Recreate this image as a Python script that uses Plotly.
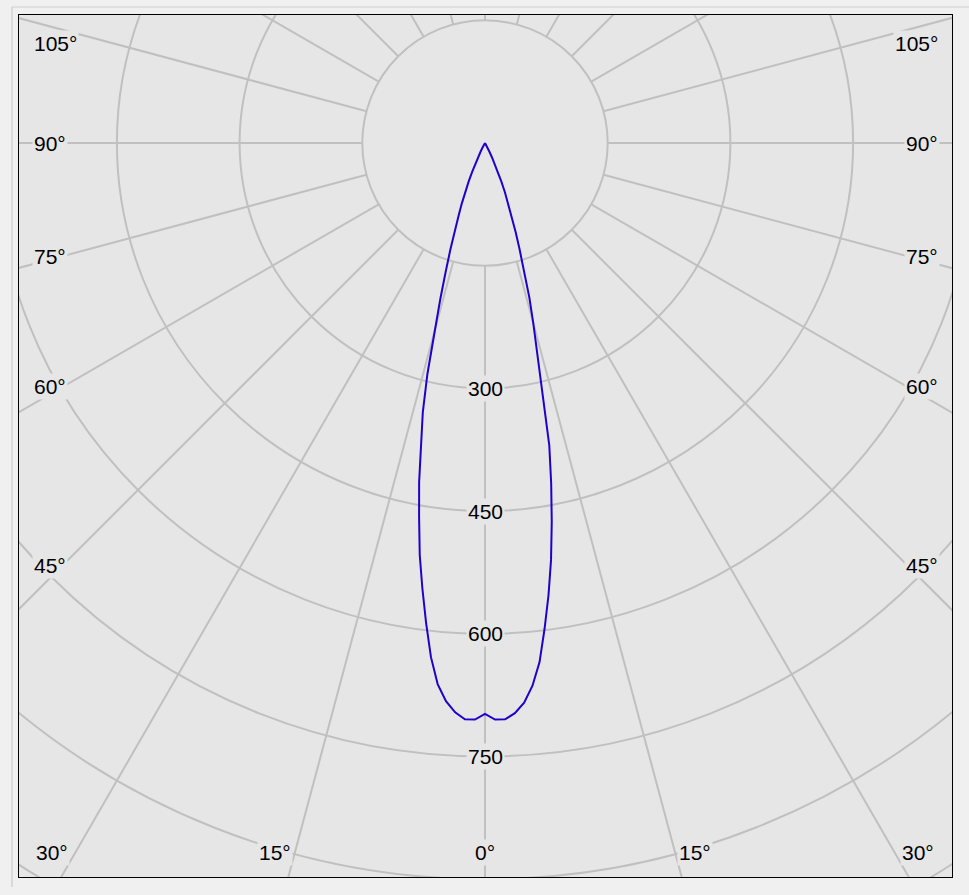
import numpy as np
import plotly.graph_objects as go

# ---- data: luminous intensity (cd) against gamma angle (deg) ----
gamma_deg = list(range(0, 31)) + [35, 45, 60, 75, 90, 105, 120, 135, 150, 165, 180]
intensity_c0 = [698, 705, 705, 698, 686, 666, 638, 598, 558, 516,
                470, 424, 378, 313, 262, 228, 197, 164, 137, 115,
                94, 79, 65, 51, 38, 27, 19, 12, 7, 4, 2,
                1, 0, 0, 0, 0, 0, 0, 0, 0, 0, 0]
intensity_c180 = [698, 705, 705, 697, 684, 664, 632, 591, 550, 510,
                  464, 422, 378, 338, 291, 236, 198, 164, 137, 115,
                  94, 79, 65, 51, 38, 27, 19, 12, 7, 4, 2,
                  1, 0, 0, 0, 0, 0, 0, 0, 0, 0, 0]

grid_radii = [150, 300, 450, 600, 750, 900, 1050]
radial_labels = [300, 450, 600, 750]
spoke_angles = list(range(0, 360, 15))
side_label_angles = [45, 60, 75, 90, 105]
bottom_label_angles = [15, 30]

# ---- layout geometry (pixels) ----
W, H = 969, 895
ML, MR, MT, MB = 19, 17, 15, 18
CX, CY = 485, 143          # pixel position of the pole
S = 0.818                  # pixels per candela
PLOT_BG = "#e6e6e6"
GRID = "#c0c0c0"
FONT = dict(family="Liberation Sans, Arial, sans-serif", size=21, color="#000000")


def xd(px):
    return (px - CX) / S


def yd(py):
    return (CY - py) / S


x_range = [xd(ML), xd(W - MR)]
y_range = [yd(H - MB), yd(MT)]

# ---- curve (C180 half on the left, C0 half on the right) ----
g = np.radians(gamma_deg)
i0 = np.array(intensity_c0, dtype=float)
i180 = np.array(intensity_c180, dtype=float)
xs = np.concatenate([(-i180 * np.sin(g))[::-1], i0 * np.sin(g)])
ys = np.concatenate([(-i180 * np.cos(g))[::-1], -i0 * np.cos(g)])

fig = go.Figure()
fig.add_trace(go.Scatter(x=xs, y=ys, mode="lines",
                         line=dict(color="#2200cc", width=2),
                         hoverinfo="skip", showlegend=False))

shapes = []
for r in grid_radii:
    shapes.append(dict(type="circle", xref="x", yref="y", x0=-r, y0=-r, x1=r, y1=r,
                       line=dict(color=GRID, width=2), layer="below"))
r_in, r_out = grid_radii[0], 1400
for a in spoke_angles:
    ar = np.radians(a)
    shapes.append(dict(type="line", xref="x", yref="y",
                       x0=r_in * np.sin(ar), y0=-r_in * np.cos(ar),
                       x1=r_out * np.sin(ar), y1=-r_out * np.cos(ar),
                       line=dict(color=GRID, width=2), layer="below"))


def ppx(px):
    return (px - ML) / (W - ML - MR)


def ppy(py):
    return (H - MB - py) / (H - MT - MB)


# outer panel edge
shapes.append(dict(type="line", xref="paper", yref="paper", x0=ppx(12), y0=ppy(7),
                   x1=ppx(969), y1=ppy(7), line=dict(color="#cfcfcf", width=1)))
shapes.append(dict(type="line", xref="paper", yref="paper", x0=ppx(12), y0=ppy(7),
                   x1=ppx(12), y1=ppy(887), line=dict(color="#c4c4c4", width=1)))

annotations = []
for r in radial_labels:
    annotations.append(dict(x=0, y=-r, xref="x", yref="y", text=str(r), showarrow=False,
                            font=FONT, bgcolor=PLOT_BG, borderpad=1,
                            xanchor="center", yanchor="middle"))

# angle labels on the sides
x_cross = abs(xd(63))
for a in side_label_angles:
    ar = np.radians(a)
    y = -x_cross * np.cos(ar) / np.sin(ar)
    y = min(y, yd(43))
    annotations.append(dict(x=xd(31.5), y=y, xref="x", yref="y", text=f"{a}°",
                            showarrow=False, font=FONT, bgcolor=PLOT_BG, borderpad=1,
                            xanchor="left", yanchor="middle"))
    annotations.append(dict(x=xd(940), y=y, xref="x", yref="y", text=f"{a}°",
                            showarrow=False, font=FONT, bgcolor=PLOT_BG, borderpad=1,
                            xanchor="right", yanchor="middle"))

# angle labels at the bottom
y_cross = abs(yd(861))
y_lab = yd(852)
for a in bottom_label_angles:
    xc = y_cross * np.tan(np.radians(a))
    annotations.append(dict(x=-xc, y=y_lab, xref="x", yref="y", text=f"{a}°",
                            showarrow=False, font=FONT, bgcolor=PLOT_BG, borderpad=1,
                            xanchor="right", yanchor="middle"))
    annotations.append(dict(x=xc, y=y_lab, xref="x", yref="y", text=f"{a}°",
                            showarrow=False, font=FONT, bgcolor=PLOT_BG, borderpad=1,
                            xanchor="left", yanchor="middle"))
annotations.append(dict(x=0, y=y_lab, xref="x", yref="y", text="0°",
                        showarrow=False, font=FONT, bgcolor=PLOT_BG, borderpad=1,
                        xanchor="center", yanchor="middle"))

axis_common = dict(showgrid=False, zeroline=False, showticklabels=False, ticks="",
                   showline=True, mirror=True, linecolor="#000000", linewidth=1,
                   fixedrange=True)
fig.update_layout(
    width=W, height=H,
    margin=dict(l=ML, r=MR, t=MT, b=MB, pad=0),
    paper_bgcolor="#f0f0f0", plot_bgcolor=PLOT_BG,
    xaxis=dict(range=x_range, **axis_common),
    yaxis=dict(range=y_range, **axis_common),
    shapes=shapes, annotations=annotations,
    showlegend=False,
)
fig.write_html(
    "out.html",
    config={"displayModeBar": False},
    post_script="document.body.style.margin='0';document.body.style.background='#f0f0f0';"
                "document.body.style.overflow='hidden';",
)
